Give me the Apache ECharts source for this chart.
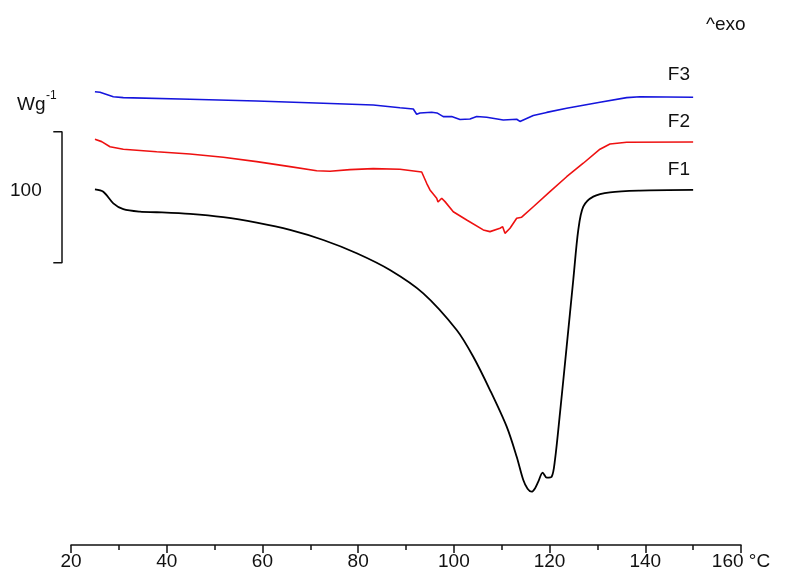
<!DOCTYPE html>
<html>
<head>
<meta charset="utf-8">
<script src="https://cdn.jsdelivr.net/npm/echarts@6/dist/echarts.min.js"></script>
<style>
  html, body { margin: 0; padding: 0; background: #fff; }
  #main { width: 790px; height: 581px; }
</style>
</head>
<body>
<div id="main"></div>
<script>
var myChart = echarts.init(document.getElementById('main'));

// temperatures (°C) and heat flow (arbitrary offset, 100 units = scale bar)
var f1Temp = [25.0, 26.75, 28.84, 30.93, 34.42, 37.91, 44.86, 51.82, 58.80, 65.76, 72.72, 79.70, 86.65,
    93.61, 100.59, 104.06, 107.55, 111.04, 113.13, 114.51, 115.4, 116.26, 117.0, 117.64, 118.56, 119.40,
    120.44, 121.13, 122.17, 123.57, 124.95, 126.00, 127.04, 129.13, 132.62, 138.89, 150.0];
var f1Heat = [271.5, 269.7, 260.8, 256.3, 254.4, 254.0, 252.7, 250.2, 246.0, 240.5, 232.8, 222.7, 209.9,
    192.1, 164.1, 143.7, 118.3, 90.3, 67.4, 49.6, 43.0, 40.7, 43.5, 48.3, 55.2, 51.4,
    52.1, 64.9, 100.5, 151.4, 202.3, 240.5, 258.2, 265.9, 269.2, 270.5, 271.0];

var f2Temp = [25.0, 26.41, 28.15, 30.93, 37.91, 44.86, 51.82, 58.80, 65.76, 71.34, 74.12, 78.29, 83.16,
    88.74, 93.28, 94.32, 95.01, 96.41, 96.69, 97.46, 98.15, 99.88, 102.68, 106.15, 107.55, 109.64, 110.20,
    110.68, 111.73, 113.13, 114.17, 116.60, 120.08, 123.57, 127.04, 130.53, 132.62, 136.11, 150.0];
var f2Heat = [309.7, 307.9, 304.0, 302.1, 300.2, 298.5, 296.0, 292.6, 288.8, 285.7, 285.3, 286.5, 287.3,
    286.8, 284.7, 276.1, 271.0, 264.7, 261.8, 264.7, 262.1, 254.4, 248.1, 240.5, 239.2, 241.8, 243.0,
    237.9, 241.8, 249.4, 250.2, 258.2, 269.7, 281.1, 291.4, 302.1, 306.1, 307.4, 307.6];

var f3Temp = [25.0, 26.06, 28.84, 30.93, 44.86, 58.80, 72.72, 83.16, 88.74, 91.52, 92.23, 92.92, 95.37,
    96.47, 97.79, 99.54, 101.28, 103.37, 104.77, 106.86, 110.33, 113.13, 113.81, 116.60, 119.40, 123.57,
    130.53, 136.11, 138.89, 150.0];
var f3Heat = [346.0, 345.6, 342.2, 341.5, 340.2, 338.9, 337.2, 335.9, 333.8, 332.8, 328.8, 329.8, 330.3,
    329.8, 327.0, 327.0, 324.8, 325.2, 327.1, 326.5, 324.4, 325.0, 323.3, 327.9, 330.2, 333.4,
    337.9, 341.5, 342.2, 341.8];

// scale bar (100 units)
var barTemp = [16.3, 18.12, 18.12, 16.3];
var barHeat = [315.5, 315.5, 215.5, 215.5];

var xTicks = [20, 40, 60, 80, 100, 120, 140, 160];

function pairs(xs, ys) {
    return xs.map(function (x, i) { return [x, ys[i]]; });
}

var font = "'Liberation Sans', Arial, sans-serif";
var fs = 19;

myChart.setOption({
    backgroundColor: '#fff',
    animation: false,
    grid: [
        { left: 71, right: 49, top: 0, bottom: 36 },
        // narrow grid left of the axis, same temperature scale, holds the scale bar
        { left: 71 - 5 * 4.786, width: 5 * 4.786, top: 0, bottom: 36 }
    ],
    xAxis: [{
        type: 'value',
        gridIndex: 0,
        min: xTicks[0],
        max: xTicks[xTicks.length - 1],
        interval: 20,
        axisLine: { lineStyle: { color: '#111', width: 1.5 } },
        axisTick: { length: 8, lineStyle: { color: '#111', width: 1.5 } },
        minorTick: { show: true, splitNumber: 2, length: 5, lineStyle: { color: '#111', width: 1.5 } },
        axisLabel: {
            margin: 7, color: '#111', fontSize: fs, fontFamily: font,
            formatter: function (v) { return v === 160 ? '160 °C' : String(v); }
        },
        splitLine: { show: false }
    }, {
        type: 'value',
        gridIndex: 1,
        min: 15,
        max: 20,
        show: false
    }],
    yAxis: [{
        type: 'value',
        gridIndex: 0,
        min: 0,
        max: 416,
        show: false
    }, {
        type: 'value',
        gridIndex: 1,
        min: 0,
        max: 416,
        show: false
    }],
    graphic: [
        { type: 'text', left: 706, top: 15, style: { text: '^exo', fontSize: fs, fontFamily: font, fill: '#111' } },
        { type: 'text', left: 17, top: 95, style: { text: 'Wg', fontSize: fs, fontFamily: font, fill: '#111' } },
        { type: 'text', left: 46, top: 90, style: { text: '-1', fontSize: 12, fontFamily: font, fill: '#111' } },
        { type: 'text', left: 10, top: 181, style: { text: '100', fontSize: fs, fontFamily: font, fill: '#111' } },
        { type: 'text', right: 100, top: 65, style: { text: 'F3', fontSize: fs, fontFamily: font, fill: '#111' } },
        { type: 'text', right: 100, top: 112, style: { text: 'F2', fontSize: fs, fontFamily: font, fill: '#111' } },
        { type: 'text', right: 100, top: 160, style: { text: 'F1', fontSize: fs, fontFamily: font, fill: '#111' } }
    ],
    series: [{
        name: 'F1',
        type: 'line',
        data: pairs(f1Temp, f1Heat),
        smooth: 0.3,
        showSymbol: false,
        lineStyle: { color: '#000', width: 1.8 }
    }, {
        name: 'F2',
        type: 'line',
        data: pairs(f2Temp, f2Heat),
        showSymbol: false,
        lineStyle: { color: '#ee1111', width: 1.6 }
    }, {
        name: 'F3',
        type: 'line',
        data: pairs(f3Temp, f3Heat),
        showSymbol: false,
        lineStyle: { color: '#1515dd', width: 1.6 }
    }, {
        name: 'scale',
        type: 'line',
        xAxisIndex: 1,
        yAxisIndex: 1,
        data: pairs(barTemp, barHeat),
        showSymbol: false,
        lineStyle: { color: '#111', width: 1.5 }
    }]
});
</script>
</body>
</html>
